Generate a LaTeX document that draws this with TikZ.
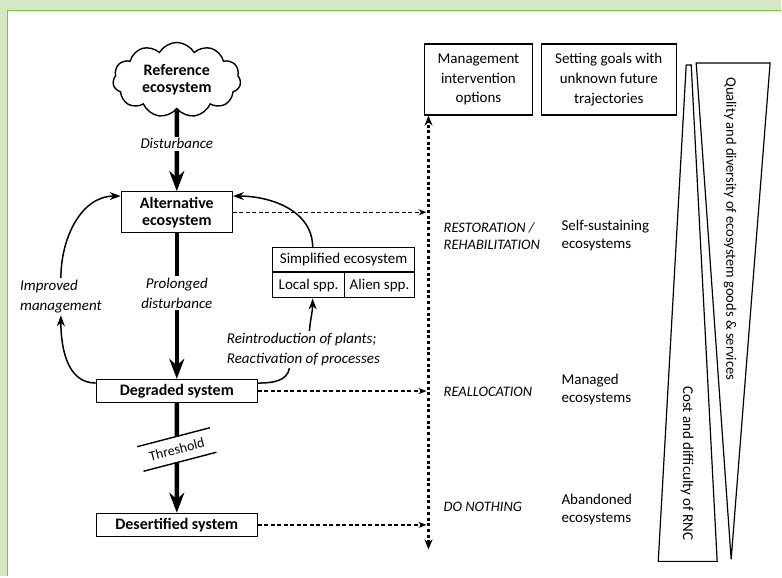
\documentclass[tikz,border=0pt]{standalone}
\usepackage{fontspec}
\setmainfont{Carlito}
\usetikzlibrary{shapes.symbols, arrows.meta}
\definecolor{bandgreen}{HTML}{D5E8C4}
\definecolor{framegreen}{HTML}{78C04C}
\tikzset{
    sysbox/.style = {draw, line width = 1.4pt, fill = white, align = center, inner sep = 0pt,
        font = \bfseries\fontsize{16}{17}\selectfont},
    optbox/.style = {draw, line width = 1.4pt, align = center, inner sep = 0pt,
        font = \fontsize{15}{20}\selectfont},
    tablecell/.style = {draw, line width = 1.2pt, inner sep = 0pt, font = \fontsize{15}{15}\selectfont},
    stemlabel/.style = {fill = white, inner sep = 2pt, align = center, font = \itshape\fontsize{15}{20}\selectfont},
    notelabel/.style = {inner sep = 2pt, align = left, font = \itshape\fontsize{15}{20}\selectfont},
    optlabel/.style = {inner sep = 2pt, align = left, font = \itshape\fontsize{14.5}{17}\selectfont},
    outlabel/.style = {inner sep = 2pt, align = left, font = \fontsize{15}{18}\selectfont},
    stemarrow/.style = {line width = 4.5pt, -{Stealth[length = 20pt, width = 15pt]}},
    curvearrow/.style = {line width = 1.5pt, -{Stealth[length = 11pt, width = 8pt]}},
    curveline/.style = {line width = 1.5pt},
    dasharrow/.style = {line width = 1.3pt, dash pattern = on 4pt off 2.5pt, shorten > = 2pt,
        -{Stealth[length = 8pt, width = 6pt]}},
    dotaxis/.style = {line width = 2.8pt, dash pattern = on 3pt off 2.7pt,
        {Stealth[length = 10pt, width = 8pt]}-{Stealth[length = 10pt, width = 8pt]}}
}
\begin{document}
\begin{tikzpicture}[x = 1pt, y = -1pt]
        \fill [bandgreen] (0, 0) rectangle (782, 577);
        \fill [white] (7.5, 10.5) rectangle (782, 577);
        \draw [framegreen, line width = 1.8pt] (7.5, 577) -- (7.5, 10.5) -- (782, 10.5);
        \useasboundingbox (0, 0) rectangle (782, 577);

        \node [cloud, cloud puffs = 11, cloud puff arc = 120, aspect = 1.7, draw, line width = 1.4pt,
            minimum width = 128pt, minimum height = 75pt, inner sep = 0pt, align = center,
            font = \bfseries\fontsize{16}{17}\selectfont] (ref) at (177, 80) {Reference\\ecosystem};
        \node [sysbox, minimum width = 111pt, minimum height = 41pt] (alt) at (177, 212.5) {Alternative\\ecosystem};
        \node [sysbox, minimum width = 161pt, minimum height = 23pt] (deg) at (177, 391.5) {Degraded system};
        \node [sysbox, minimum width = 161pt, minimum height = 23pt] (des) at (177, 525.5) {Desertified system};
        \node [rotate = 14.6, minimum width = 75pt, minimum height = 25pt, inner sep = 0pt,
            font = \fontsize{14}{14}\selectfont] (thr) at (177, 450) {Threshold};

        \draw [stemarrow] (ref) -- node [pos = 0.42, stemlabel] {Disturbance} (alt);
        \draw [stemarrow] (alt) -- node [pos = 0.41, stemlabel] {Prolonged\\disturbance} (deg);
        \draw [line width = 4.5pt] (deg) -- (thr);
        \draw [stemarrow] (thr) -- (des);
        \draw [line width = 1.4pt] (thr.north west) -- (thr.north east) (thr.south west) -- (thr.south east);

        \node [notelabel, anchor = west] (imp) at (18, 297) {Improved\\management};
        \draw [curvearrow] ([yshift = 8pt]deg.west) to [out = 180, in = -90] (imp.south);
        \draw [curvearrow] (imp.north) to [out = 90, in = 180] ([yshift = -5pt]alt.north west);

        \node [tablecell, minimum width = 142pt, minimum height = 24pt] (simp) at (344, 260) {Simplified ecosystem};
        \node [tablecell, minimum width = 72pt, minimum height = 25pt, anchor = north west] (loc) at (simp.south west) {Local spp.};
        \node [tablecell, minimum width = 70pt, minimum height = 25pt, anchor = north east] (ali) at (simp.south east) {Alien spp.};
        \draw [curvearrow] ([xshift = -31pt]simp.north) to [out = 90, in = 0] ([yshift = -5pt]alt.north east);

        \node [notelabel, anchor = west] (reint) at (225, 350) {Reintroduction of plants;\\Reactivation of processes};
        \draw [curveline] ([yshift = 8pt]deg.east) to [out = 0, in = -100] ([xshift = -14pt]reint.south);
        \draw [curvearrow] ([xshift = 6pt]reint.north) to [out = 85, in = -90] ([xshift = 4pt]loc.south);

        \node [optbox, minimum width = 108pt, minimum height = 71pt] (mgmt) at (479, 79.5) {Management\\intervention\\options};
        \node [optbox, minimum width = 135pt, minimum height = 71pt] (goal) at (609.5, 79.5) {Setting goals with\\unknown future\\trajectories};

        \coordinate (axisend) at (429, 550);
        \draw [dotaxis] (axisend) -- (axisend |- mgmt.south);
        \draw [dasharrow] (alt) -- (alt -| axisend);
        \draw [dasharrow] (deg) -- (deg -| axisend);
        \draw [dasharrow] (des) -- (des -| axisend);

        \node [optlabel, anchor = west] (rest) at (442, 236) {RESTORATION /\\REHABILITATION};
        \node [outlabel, anchor = west] (selfs) at (560, 236) {Self-sustaining\\ecosystems};
        \node [optlabel, anchor = west] (realloc) at (442, 392) {REALLOCATION};
        \node [outlabel, anchor = west] (manag) at (560, 390) {Managed\\ecosystems};
        \node [optlabel, anchor = west] (nothing) at (442, 507) {DO NOTHING};
        \node [outlabel, anchor = west] (aband) at (560, 510) {Abandoned\\ecosystems};

        \draw [line width = 1.2pt] (697, 63) -- (771, 63) -- (732, 560) -- cycle;
        \draw [line width = 1.2pt] (687, 65) -- (692, 65) -- (718, 562) -- (659, 562) -- cycle;
        \node [rotate = -90, inner sep = 0pt, font = \fontsize{14.5}{14.5}\selectfont] (quality) at (731, 229)
            {Quality and diversity of ecosystem goods \& services};
        \node [rotate = -90, inner sep = 0pt, font = \fontsize{15}{15}\selectfont] (cost) at (688, 464)
            {Cost and difficulty of RNC};
    \end{tikzpicture}
\end{document}
